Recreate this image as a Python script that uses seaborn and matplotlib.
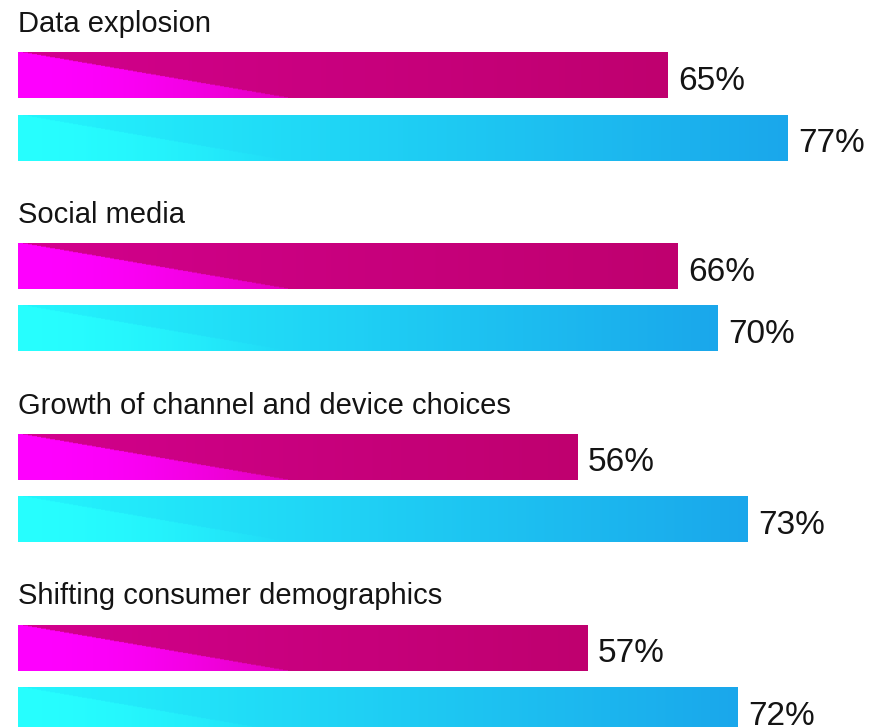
import numpy as np
import pandas as pd
import matplotlib
matplotlib.use("Agg")
import matplotlib.pyplot as plt
from matplotlib.colors import to_rgb
import seaborn as sns

# Survey drivers and the share of respondents for each of the two series
categories = ["Data explosion", "Social media",
              "Growth of channel and device choices",
              "Shifting consumer demographics"]
series_names = ["Series 1", "Series 2"]
series_1 = [65, 66, 56, 57]
series_2 = [77, 70, 73, 72]

df = pd.DataFrame({
    "category": categories * 2,
    "series": [series_names[0]] * 4 + [series_names[1]] * 4,
    "value": series_1 + series_2,
})

sns.set_theme(style="white")
plt.rcParams["font.family"] = ["Liberation Sans", "DejaVu Sans"]

fig = plt.figure(figsize=(8.75, 7.27), dpi=100)
ax = fig.add_axes([0, 0, 1, 1])

sns.barplot(data=df, y="category", x="value", hue="series",
            hue_order=series_names, order=categories, orient="h",
            width=0.653, gap=0.26, dodge=True, legend=False,
            palette=["#c8007f", "#1ec8f0"], ax=ax, errorbar=None)

# gradient styles: left colour, right colour, wedge highlight colour,
# fade amount towards the wedge tip and the fade curve exponent
styles = {
    series_names[0]: ("#d2008d", "#bf006f", "#ff00ff", 0.55, 2.0),
    series_names[1]: ("#24f6fd", "#1aa7eb", "#27ffff", 1.0, 1.0),
}

PX_PER_UNIT = 10.0
TRI_LEN = 27.0  # length of the lower-left highlight wedge, in value units

bars = []
for container, name in zip(ax.containers, series_names):
    for patch in container.patches:
        bars.append((patch, name))

for patch, name in bars:
    c_left, c_right, c_hi, drop, power = styles[name]
    c_left, c_right, c_hi = (np.array(to_rgb(c)) for c in (c_left, c_right, c_hi))
    x0, y0 = patch.get_x(), patch.get_y()
    w, h = patch.get_width(), patch.get_height()
    ncol = max(int(w * PX_PER_UNIT), 2)
    nrow = 60
    xs = np.linspace(0, w, ncol)[None, :, None]
    ys = np.linspace(0, 1, nrow)[:, None, None]
    t = xs / w
    base = c_left * (1 - t) + c_right * t
    base = np.broadcast_to(base, (nrow, ncol, 3)).copy()
    inside = (xs < TRI_LEN * ys)
    fade = np.clip(1 - drop * (xs / TRI_LEN) ** power, 0, 1)
    hi = c_hi * fade + base * (1 - fade)
    img = np.where(inside, hi, base)
    im = ax.imshow(img, extent=[x0, x0 + w, y0 + h, y0], aspect="auto",
                   interpolation="bilinear", zorder=2)
    im.set_clip_path(patch)
    patch.set_facecolor("none")
    patch.set_edgecolor("none")

# value labels next to each bar
for patch, name in bars:
    v = patch.get_width()
    yc = patch.get_y() + patch.get_height() / 2
    ax.text(v + 1.0, yc + 0.076, f"{v:.0f}%", ha="left", va="baseline",
            fontsize=24, color="#141414", zorder=3)

# category titles above each pair of bars
for i, cat in enumerate(categories):
    ax.text(0, i - 0.39, cat, ha="left", va="baseline",
            fontsize=21, color="#141414", zorder=3)

ax.set_xlim(-1.8, 85.7)
ax.set_ylim(3.252, -0.558)
ax.set_axis_off()

fig.savefig("out.png", dpi=100, facecolor="white")
